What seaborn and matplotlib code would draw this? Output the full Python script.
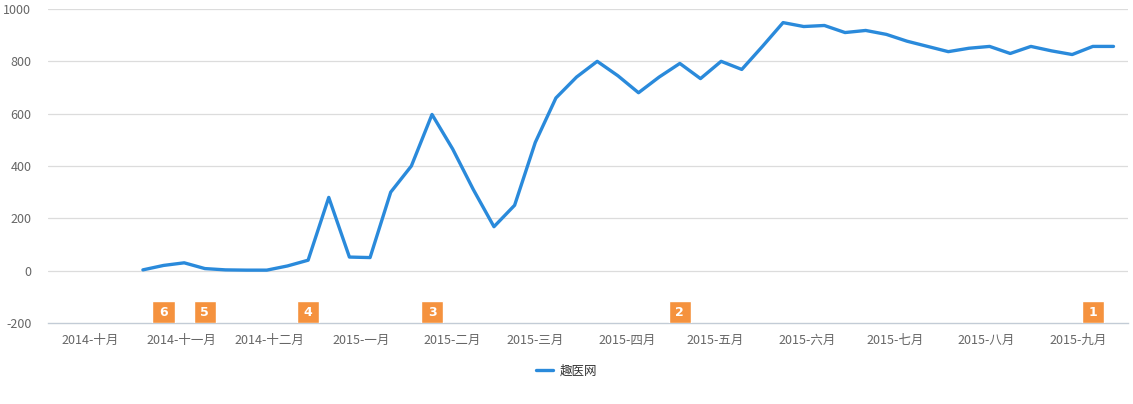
import pandas as pd
import numpy as np
import matplotlib
matplotlib.use("Agg")
import matplotlib.pyplot as plt
import matplotlib.dates as mdates
import seaborn as sns

# ---- data ----
start_date = "2014-10-19"
values = [3, 20, 30, 8, 3, 2, 2, 18, 40, 280,
          52, 50, 300, 400, 597, 465, 310, 168, 250, 490,
          660, 740, 800, 745, 680, 740, 792, 734, 800, 769,
          857, 948, 933, 937, 910, 918, 903, 877, 857, 837,
          850, 857, 830, 857, 840, 826, 857, 857]
series_name = "趣医网"
event_dates = ["2014-10-26", "2014-11-09", "2014-12-14", "2015-01-25", "2015-04-19", "2015-09-06"]
event_labels = ["6", "5", "4", "3", "2", "1"]
month_ticks = ["2014-10-01", "2014-11-01", "2014-12-01", "2015-01-01", "2015-02-01", "2015-03-01",
               "2015-04-01", "2015-05-01", "2015-06-01", "2015-07-01", "2015-08-01", "2015-09-01"]
month_labels = ["2014-十月", "2014-十一月", "2014-十二月", "2015-一月", "2015-二月", "2015-三月",
                "2015-四月", "2015-五月", "2015-六月", "2015-七月", "2015-八月", "2015-九月"]
y_ticks = [-200, 0, 200, 400, 600, 800, 1000]

dates = pd.date_range(start_date, periods=len(values), freq="7D")
df = pd.DataFrame({"date": dates, "value": values, "series": series_name})

sns.set_theme(style="white")
plt.rcParams['font.family'] = ['Noto Sans CJK SC', 'DejaVu Sans']

W, H = 1133, 404
fig = plt.figure(figsize=(W / 100, H / 100), dpi=100)
ax = fig.add_axes([48 / W, 81 / H, (1128 - 48) / W, (323 - 9) / H])

line_color = "#2A8ADB"
sns.lineplot(data=df, x="date", y="value", hue="series", palette=[line_color],
             linewidth=2.4, ax=ax, legend=True)

# event markers
ev = pd.to_datetime(event_dates)
ax.bar(ev, [84] * len(ev), bottom=-200, width=7.5, color="#F5923E", zorder=3)
for d, lab in zip(ev, event_labels):
    ax.text(d, -158, lab, color="white", fontsize=9, fontweight="bold",
            ha="center", va="center", zorder=4, family=['DejaVu Sans'])

ax.set_xlim(pd.Timestamp("2014-09-16 20:00"), pd.Timestamp("2015-09-17 22:00"))
ax.set_ylim(-200, 1000)
ax.set_yticks(y_ticks)
ax.set_yticklabels([str(v) for v in y_ticks])
ax.set_xticks(pd.to_datetime(month_ticks))
ax.set_xticklabels(month_labels)
ax.set_xlabel("")
ax.set_ylabel("")

for v in y_ticks[1:]:
    ax.axhline(v, color="#DCDCDC", linewidth=0.9, zorder=0)

for s in ["top", "right", "left"]:
    ax.spines[s].set_visible(False)
ax.spines["bottom"].set_color("#C3CCD6")
ax.spines["bottom"].set_linewidth(1)

ax.tick_params(axis="y", length=0, pad=12, labelsize=9, labelcolor="#666666")
ax.tick_params(axis="x", length=5, width=0.8, color="#C3CCD6", direction="out",
               pad=3, labelsize=9, labelcolor="#666666")

leg = ax.legend(loc="center", bbox_to_anchor=(0.5, 33 / H), bbox_transform=fig.transFigure,
                frameon=False, fontsize=9, handlelength=1.4, handletextpad=0.5)
for t in leg.get_texts():
    t.set_color("#333333")

fig.savefig("out.png", dpi=100)
